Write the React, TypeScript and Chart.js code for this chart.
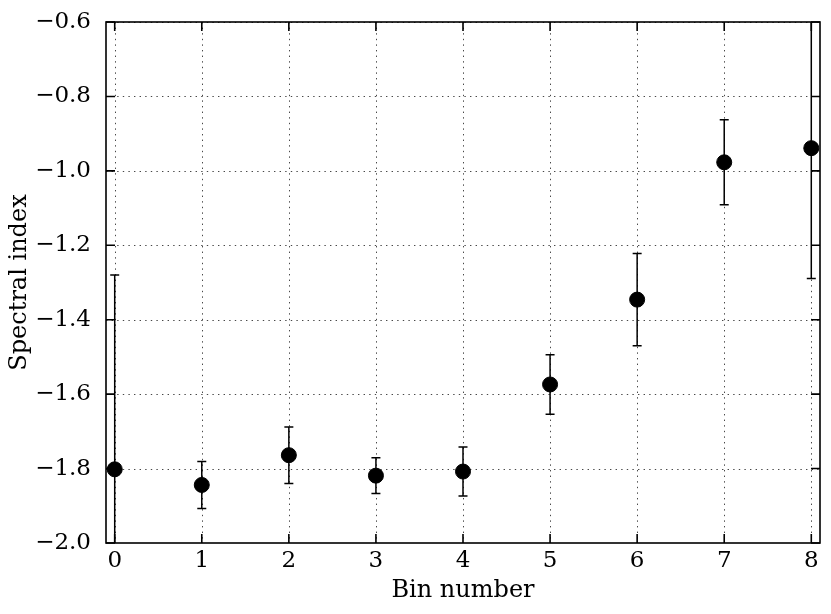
import React, { useEffect, useRef } from "react";
import { Chart, registerables } from "chart.js";

Chart.register(...registerables);

const binNumbers = [0, 1, 2, 3, 4, 5, 6, 7, 8];
const spectralIndex = [-1.802, -1.844, -1.764, -1.819, -1.808, -1.574, -1.346, -0.977, -0.939];
const indexError = [0.522, 0.063, 0.076, 0.048, 0.066, 0.08, 0.124, 0.114, 0.35];
const xTicks = [0, 1, 2, 3, 4, 5, 6, 7, 8];
const yTicks = [-2.0, -1.8, -1.6, -1.4, -1.2, -1.0, -0.8, -0.6];

const FONT = "'DejaVu Serif', serif";

const framePlugin = {
  id: "frameAndErrors",
  beforeDatasetsDraw(chart: any) {
    const { ctx, chartArea: a, scales } = chart;
    const x = scales.x, y = scales.y;
    ctx.save();
    ctx.beginPath();
    ctx.rect(a.left, a.top, a.right - a.left, a.bottom - a.top);
    ctx.clip();
    ctx.strokeStyle = "#333";
    ctx.lineWidth = 0.9;
    ctx.setLineDash([1.4, 4.2]);
    for (const v of xTicks) {
      const px = Math.round(x.getPixelForValue(v)) + 0.5;
      ctx.beginPath();
      ctx.moveTo(px, a.top);
      ctx.lineTo(px, a.bottom);
      ctx.stroke();
    }
    for (const v of yTicks) {
      const py = Math.round(y.getPixelForValue(v)) + 0.5;
      ctx.beginPath();
      ctx.moveTo(a.left, py);
      ctx.lineTo(a.right, py);
      ctx.stroke();
    }
    ctx.setLineDash([]);
    ctx.strokeStyle = "#000";
    ctx.lineWidth = 1.5;
    for (let i = 0; i < binNumbers.length; i++) {
      const px = x.getPixelForValue(binNumbers[i]);
      const top = y.getPixelForValue(spectralIndex[i] + indexError[i]);
      const bot = y.getPixelForValue(spectralIndex[i] - indexError[i]);
      ctx.beginPath();
      ctx.moveTo(px, top);
      ctx.lineTo(px, bot);
      ctx.moveTo(px - 4.5, top);
      ctx.lineTo(px + 4.5, top);
      ctx.moveTo(px - 4.5, bot);
      ctx.lineTo(px + 4.5, bot);
      ctx.stroke();
    }
    ctx.restore();
  },
  afterDatasetsDraw(chart: any) {
    const { ctx, chartArea: a, scales } = chart;
    const x = scales.x, y = scales.y;
    ctx.save();
    ctx.strokeStyle = "#000";
    ctx.lineWidth = 1.6;
    const tl = 9;
    ctx.beginPath();
    for (const v of xTicks) {
      const px = x.getPixelForValue(v);
      ctx.moveTo(px, a.bottom);
      ctx.lineTo(px, a.bottom - tl);
      ctx.moveTo(px, a.top);
      ctx.lineTo(px, a.top + tl);
    }
    for (const v of yTicks) {
      const py = y.getPixelForValue(v);
      ctx.moveTo(a.left, py);
      ctx.lineTo(a.left + tl, py);
      ctx.moveTo(a.right, py);
      ctx.lineTo(a.right - tl, py);
    }
    ctx.stroke();
    ctx.strokeRect(a.left, a.top, a.right - a.left, a.bottom - a.top);
    ctx.restore();
  },
};

export default function App() {
  const ref = useRef<HTMLCanvasElement>(null);
  useEffect(() => {
    if (!ref.current) return;
    const chart = new Chart(ref.current, {
      type: "scatter",
      data: {
        datasets: [
          {
            data: binNumbers.map((b, i) => ({ x: b, y: spectralIndex[i] })),
            backgroundColor: "#000",
            borderColor: "#000",
            pointRadius: 7.5,
            pointHoverRadius: 7.5,
            showLine: false,
          },
        ],
      },
      options: {
        animation: false,
        responsive: false,
        layout: { padding: { left: 0, top: 22, right: 11, bottom: 0 } },
        plugins: { legend: { display: false }, tooltip: { enabled: false } },
        scales: {
          x: {
            type: "linear",
            min: -0.1,
            max: 8.1,
            afterBuildTicks: (s: any) => {
              s.ticks = xTicks.map((v) => ({ value: v }));
            },
            afterFit: (s: any) => {
              s.height = 71;
            },
            grid: { display: false },
            border: { display: false },
            ticks: {
              color: "#000",
              font: { family: FONT, size: 23 },
              padding: -4,
              maxRotation: 0,
              callback: (v: any) => String(v),
            },
            title: {
              display: true,
              text: "Bin number",
              color: "#000",
              font: { family: FONT, size: 24 },
              padding: { top: 0, bottom: 9 },
            },
          },
          y: {
            type: "linear",
            min: -2.0,
            max: -0.6,
            afterBuildTicks: (s: any) => {
              s.ticks = yTicks.map((v) => ({ value: v }));
            },
            afterFit: (s: any) => {
              s.width = 106;
            },
            grid: { display: false },
            border: { display: false },
            ticks: {
              color: "#000",
              font: { family: FONT, size: 23 },
              padding: 7,
              callback: (v: any) => Number(v).toFixed(1).replace("-", "\u2212"),
            },
            title: {
              display: true,
              text: "Spectral index",
              color: "#000",
              font: { family: FONT, size: 24 },
              padding: { top: 5, bottom: 0 },
            },
          },
        },
      },
      plugins: [framePlugin],
    } as any);
    return () => chart.destroy();
  }, []);
  return (
    <div style={{ position: "absolute", left: 0, top: 0, width: 831, height: 614, background: "#fff" }}>
      <canvas ref={ref} width={831} height={614} style={{ display: "block" }} />
    </div>
  );
}
